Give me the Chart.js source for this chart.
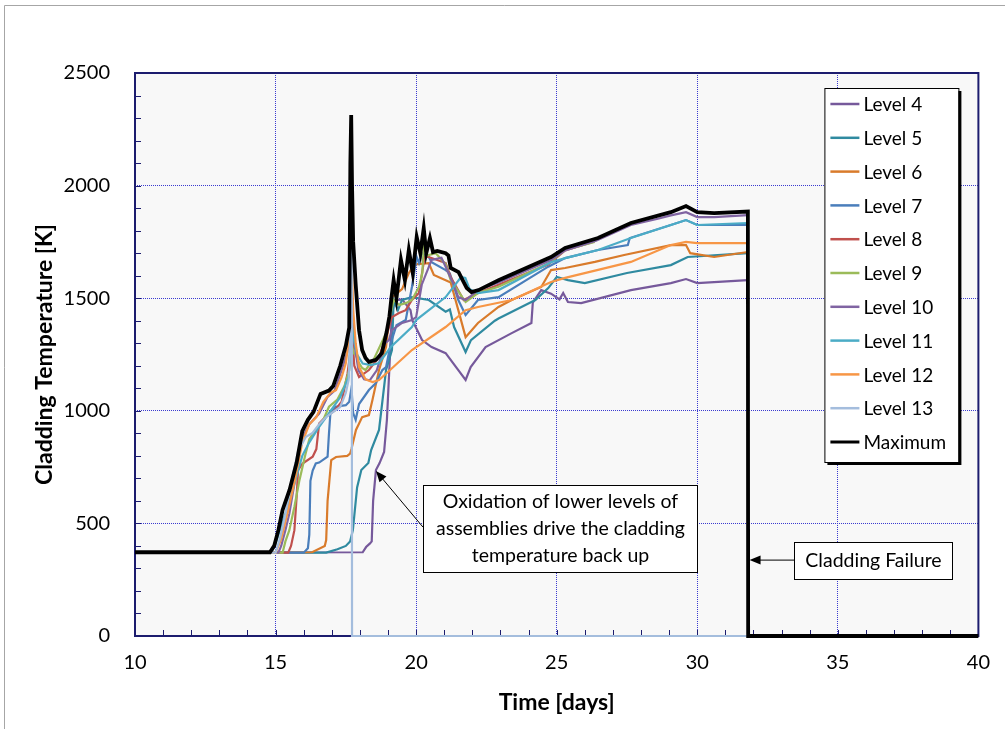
<!DOCTYPE html>
<html>
<head>
<meta charset="utf-8">
<script src="https://cdn.jsdelivr.net/npm/chart.js@4"></script>
<style>
  html, body { margin: 0; padding: 0; background: #fff; }
  #wrap { width: 1005px; height: 729px; }
</style>
</head>
<body>
<div id="wrap"><canvas id="myChart" width="1005" height="729"></canvas></div>
<script>
// [time in days, cladding temperature in K]
var level4 = [[10,370],[18.1,372],[18.22,395],[18.35,410],[18.42,420],[18.47,600],[18.57,737],[18.7,768],[18.86,817],[18.96,959],[19.05,1194],[19.14,1434],[19.25,1490],[19.5,1495],[19.8,1447],[19.86,1403],[19.98,1373],[20.21,1314],[20.55,1283],[21.05,1256],[21.5,1181],[21.76,1137],[21.94,1194],[22.47,1283],[23.4,1345],[24.1,1390],[24.15,1480],[24.45,1536],[24.8,1520],[25.1,1495],[25.23,1523],[25.4,1483],[25.87,1478],[27.64,1536],[29.06,1567],[29.6,1585],[30.0,1567],[31.8,1580]];
var level5 = [[10,370],[16.8,370],[17.2,385],[17.5,400],[17.65,420],[17.75,470],[17.9,660],[18.05,737],[18.3,768],[18.4,826],[18.68,915],[18.93,1181],[19.14,1270],[19.2,1492],[19.35,1447],[19.5,1492],[19.85,1505],[20.45,1492],[21.05,1440],[21.2,1450],[21.35,1372],[21.76,1261],[21.95,1314],[22.8,1400],[22.93,1410],[24.1,1483],[24.24,1492],[24.7,1545],[25.0,1594],[25.4,1580],[26.0,1567],[27.5,1612],[29.06,1647],[29.66,1683],[31.8,1700]];
var level6 = [[10,370],[16.3,372],[16.75,400],[16.8,426],[16.85,600],[16.98,781],[17.15,795],[17.55,800],[17.65,810],[17.7,830],[17.86,915],[18.08,972],[18.32,981],[18.45,1050],[18.68,1181],[18.93,1283],[19.03,1403],[19.14,1505],[19.3,1520],[19.5,1540],[19.74,1612],[19.95,1650],[20.45,1656],[20.63,1603],[21.05,1580],[21.23,1570],[21.5,1447],[21.76,1327],[22.2,1390],[22.93,1461],[23.4,1492],[24.45,1550],[24.8,1625],[25.3,1634],[26.36,1661],[27.4,1692],[29.06,1736],[29.6,1736],[29.75,1700],[30.6,1683],[31.8,1705]];
var level7 = [[10,370],[16.0,370],[16.15,390],[16.2,450],[16.24,689],[16.32,735],[16.43,766],[16.55,770],[16.85,796],[16.9,900],[16.95,988],[17.14,1018],[17.5,1025],[17.62,1040],[17.7,1100],[17.76,990],[17.85,960],[17.97,1030],[18.32,1092],[18.56,1122],[18.8,1181],[18.93,1194],[19.1,1300],[19.3,1380],[19.63,1403],[19.85,1550],[20.02,1683],[20.1,1656],[20.2,1700],[20.45,1683],[20.55,1660],[21.05,1625],[21.2,1610],[21.5,1492],[21.76,1425],[22.2,1492],[22.93,1505],[24.7,1640],[25.3,1678],[26.47,1714],[27.53,1736],[27.6,1767],[29.06,1825],[29.6,1847],[30.0,1825],[31.8,1825]];
var level8 = [[10,370],[15.45,370],[15.55,400],[15.67,470],[15.75,620],[15.8,737],[15.96,766],[16.32,796],[16.45,830],[16.55,944],[16.79,974],[17.1,1000],[17.35,1040],[17.56,1166],[17.65,1250],[17.72,1350],[17.8,1200],[17.97,1150],[18.32,1181],[18.68,1239],[18.93,1327],[19.14,1416],[19.39,1434],[19.63,1447],[19.85,1492],[20.1,1523],[20.3,1683],[20.45,1683],[21.05,1656],[21.23,1594],[21.69,1492],[22.2,1523],[22.93,1560],[24.7,1650],[25.3,1712],[26.35,1752]];
var level9 = [[10,370],[15.25,370],[15.35,420],[15.49,470],[15.67,574],[15.85,692],[16.05,800],[16.2,874],[16.45,920],[16.7,960],[16.9,1018],[17.2,1050],[17.45,1110],[17.62,1180],[17.7,1300],[17.78,1255],[17.85,1250],[17.97,1212],[18.08,1190],[18.2,1181],[18.5,1230],[18.93,1345],[19.1,1434],[19.2,1492],[19.4,1470],[19.63,1478],[19.85,1492],[20.1,1550],[20.22,1612],[20.27,1728],[20.4,1690],[20.7,1700],[21.05,1650],[21.23,1580],[21.76,1483],[22.2,1523],[22.93,1551],[24.7,1654],[25.3,1714],[26.35,1750]];
var level10 = [[10,370],[15.1,370],[15.2,400],[15.35,470],[15.49,544],[15.73,720],[15.96,883],[16.2,940],[16.55,988],[16.85,1062],[17.1,1090],[17.35,1180],[17.55,1260],[17.65,1340],[17.72,1500],[17.8,1300],[17.95,1180],[18.15,1140],[18.35,1135],[18.6,1180],[18.9,1300],[19.03,1314],[19.14,1358],[19.5,1390],[19.85,1403],[20.0,1416],[20.2,1560],[20.55,1670],[20.9,1680],[21.05,1640],[21.3,1570],[21.5,1505],[21.76,1492],[21.95,1510],[22.2,1536],[22.93,1570],[24.8,1670],[25.3,1712],[26.4,1755],[27.64,1825],[28.6,1853],[29.06,1868],[29.6,1882],[30.0,1860],[30.6,1860],[31.8,1869]];
var level11 = [[10,370],[14.85,370],[15.0,410],[15.2,490],[15.45,580],[15.7,690],[15.95,800],[16.2,860],[16.5,920],[16.9,990],[17.3,1060],[17.6,1150],[17.7,1400],[17.78,1320],[17.9,1250],[18.1,1210],[18.4,1203],[18.68,1212],[19.1,1283],[19.85,1372],[20.0,1403],[21.05,1505],[21.6,1594],[21.75,1590],[21.9,1540],[22.2,1523],[22.93,1536],[24.8,1660],[25.3,1678],[26.47,1714],[27.64,1767],[29.06,1825],[29.6,1847],[30.0,1825],[31.8,1834]];
var level12 = [[10,370],[15.0,370],[15.2,430],[15.45,560],[15.7,700],[15.95,860],[16.2,940],[16.45,972],[16.7,1040],[16.95,1080],[17.15,1092],[17.35,1150],[17.5,1212],[17.62,1330],[17.7,1700],[17.76,1450],[17.85,1300],[17.97,1194],[18.2,1140],[18.45,1128],[18.68,1137],[19.85,1270],[21.05,1372],[21.76,1447],[22.2,1461],[23.4,1492],[24.8,1572],[25.3,1590],[27.64,1661],[29.06,1736],[29.6,1750],[30.0,1745],[31.8,1745]];
var level13 = [[10,370],[15.0,370],[15.15,430],[15.35,540],[15.55,680],[15.8,820],[16.08,885],[16.3,900],[16.55,940],[16.8,972],[17.1,1000],[17.3,1017],[17.5,1080],[17.6,1137],[17.68,1400],[17.71,2000],[17.72,0],[31.8,0]];
var maximum = [[10,372],[14.8,372],[14.95,400],[15.1,470],[15.25,560],[15.5,650],[15.75,770],[15.95,910],[16.15,960],[16.35,995],[16.6,1075],[16.9,1090],[17.05,1110],[17.3,1200],[17.5,1290],[17.62,1370],[17.66,2100],[17.69,2313],[17.72,2000],[17.76,1750],[17.85,1560],[17.97,1358],[18.08,1270],[18.2,1235],[18.32,1217],[18.57,1226],[18.78,1256],[18.95,1350],[19.05,1420],[19.12,1500],[19.2,1580],[19.3,1500],[19.46,1670],[19.6,1580],[19.74,1714],[19.88,1612],[20.02,1772],[20.15,1700],[20.27,1811],[20.36,1700],[20.49,1767],[20.6,1705],[20.75,1710],[21.05,1700],[21.15,1690],[21.23,1634],[21.51,1616],[21.8,1545],[21.97,1527],[22.22,1536],[22.93,1580],[24.8,1683],[25.3,1723],[26.47,1767],[27.64,1834],[29.06,1882],[29.6,1909],[30.0,1882],[30.6,1878],[31.8,1885],[31.81,0],[40,0]];

var seriesNames = ['Level 4','Level 5','Level 6','Level 7','Level 8','Level 9','Level 10','Level 11','Level 12','Level 13','Maximum'];
var seriesColors = ['#76599b','#2f8aa0','#d97b2b','#4a7ebb','#c0504d','#9bbb59','#8064a2','#4bacc6','#f79646','#a4bddd','#000000'];
var timeTicks = [10, 15, 20, 25, 30, 35, 40];
var tempTicks = [0, 500, 1000, 1500, 2000, 2500];

var allSeries = [level4, level5, level6, level7, level8, level9, level10, level11, level12, level13, maximum];

var notes = [
    { lines: ['Oxidation of lower levels of', 'assemblies drive the cladding', 'temperature back up'],
      box: [20.24, 670, 29.98, 284], from: [20.24, 484], to: [18.57, 733] },
    { lines: ['Cladding Failure'],
      box: [33.45, 417, 39.05, 253], from: [33.45, 337], to: [31.86, 337] }
];

Chart.defaults.font.family = 'Lato';
Chart.defaults.color = '#000';

var datasets = allSeries.map(function (s, i) {
    var isMax = i === allSeries.length - 1;
    return {
        label: seriesNames[i],
        data: s.map(function (p) { return {x: p[0], y: p[1]}; }),
        borderColor: seriesColors[i],
        backgroundColor: seriesColors[i],
        borderWidth: isMax ? 3.8 : 2.2,
        pointRadius: 0,
        tension: 0,
        fill: false,
        clip: 6,
        order: allSeries.length - i
    };
});

var background = {
    id: 'background',
    beforeDraw: function (chart) {
        var ctx = chart.ctx, a = chart.chartArea;
        ctx.save();
        ctx.fillStyle = '#fff';
        ctx.fillRect(0, 0, chart.width, chart.height);
        ctx.strokeStyle = '#a6a6a6';
        ctx.lineWidth = 1;
        ctx.beginPath();
        ctx.moveTo(4.5, chart.height);
        ctx.lineTo(4.5, 5.5);
        ctx.lineTo(chart.width, 5.5);
        ctx.stroke();
        ctx.fillStyle = '#f8f8f8';
        ctx.fillRect(a.left, a.top, a.right - a.left, a.bottom - a.top);
        ctx.restore();
    }
};

var frameTicks = {
    id: 'frameTicks',
    beforeDatasetsDraw: function (chart) {
        var ctx = chart.ctx, a = chart.chartArea, xs = chart.scales.x, ys = chart.scales.y;
        ctx.save();
        ctx.strokeStyle = '#1c1c6e';
        ctx.lineWidth = 1;
        ctx.beginPath();
        for (var t = xs.min + 1; t < xs.max; t += 1) {
            var px = Math.round(xs.getPixelForValue(t)) + 0.5;
            ctx.moveTo(px, a.bottom);
            ctx.lineTo(px, a.bottom - 6);
        }
        for (var k = ys.min + 100; k < ys.max; k += 100) {
            var py = Math.round(ys.getPixelForValue(k)) + 0.5;
            ctx.moveTo(a.left, py);
            ctx.lineTo(a.left + 6, py);
        }
        ctx.stroke();
        ctx.lineWidth = 2;
        ctx.strokeRect(a.left, a.top, a.right - a.left, a.bottom - a.top);
        ctx.restore();
    }
};

function arrow(ctx, x1, y1, x2, y2) {
    var ang = Math.atan2(y2 - y1, x2 - x1), len = 11, w = 4.5;
    ctx.beginPath();
    ctx.moveTo(x1, y1);
    ctx.lineTo(x2 - Math.cos(ang) * len * 0.8, y2 - Math.sin(ang) * len * 0.8);
    ctx.stroke();
    ctx.beginPath();
    ctx.moveTo(x2, y2);
    ctx.lineTo(x2 - Math.cos(ang) * len + Math.sin(ang) * w, y2 - Math.sin(ang) * len - Math.cos(ang) * w);
    ctx.lineTo(x2 - Math.cos(ang) * len - Math.sin(ang) * w, y2 - Math.sin(ang) * len + Math.cos(ang) * w);
    ctx.closePath();
    ctx.fill();
}

var overlay = {
    id: 'overlay',
    afterDraw: function (chart) {
        var ctx = chart.ctx, a = chart.chartArea, xs = chart.scales.x, ys = chart.scales.y;
        ctx.save();
        // text boxes with arrows
        notes.forEach(function (n) {
            var l = Math.round(xs.getPixelForValue(n.box[0])) + 0.5;
            var t = Math.round(ys.getPixelForValue(n.box[1])) + 0.5;
            var r = Math.round(xs.getPixelForValue(n.box[2])) + 0.5;
            var b = Math.round(ys.getPixelForValue(n.box[3])) + 0.5;
            ctx.strokeStyle = '#000';
            ctx.fillStyle = '#000';
            ctx.lineWidth = 1;
            arrow(ctx, xs.getPixelForValue(n.from[0]), ys.getPixelForValue(n.from[1]),
                  xs.getPixelForValue(n.to[0]), ys.getPixelForValue(n.to[1]));
            ctx.fillStyle = '#fff';
            ctx.fillRect(l, t, r - l, b - t);
            ctx.strokeRect(l, t, r - l, b - t);
            ctx.fillStyle = '#000';
            ctx.font = '19.5px Lato';
            ctx.textAlign = 'center';
            ctx.textBaseline = 'middle';
            var lh = 27, cy = (t + b) / 2 - (n.lines.length - 1) * lh / 2;
            n.lines.forEach(function (s, i) { ctx.fillText(s, (l + r) / 2, cy + i * lh); });
        });
        // legend box
        var lw = 134, lhgt = 374;
        var lx = a.right - 154, ly = a.top + 15;
        ctx.fillStyle = '#000';
        ctx.fillRect(lx + 3, ly + 3, lw, lhgt);
        ctx.fillStyle = '#fff';
        ctx.fillRect(lx, ly, lw, lhgt);
        ctx.strokeStyle = '#000';
        ctx.lineWidth = 1;
        ctx.strokeRect(lx + 0.5, ly + 0.5, lw, lhgt);
        ctx.font = '19px Lato';
        ctx.textAlign = 'left';
        ctx.textBaseline = 'middle';
        chart.data.datasets.forEach(function (d, i) {
            var yy = ly + 16 + i * 33.8;
            ctx.strokeStyle = d.borderColor;
            ctx.lineWidth = d.borderWidth > 3 ? 3 : 2.5;
            ctx.beginPath();
            ctx.moveTo(lx + 6, yy);
            ctx.lineTo(lx + 35, yy);
            ctx.stroke();
            ctx.fillStyle = '#000';
            ctx.fillText(d.label, lx + 39, yy + 1);
        });
        ctx.restore();
    }
};

function plain(v) { return String(v); }

var chart = new Chart(document.getElementById('myChart'), {
    type: 'line',
    data: { datasets: datasets },
    options: {
        responsive: false,
        animation: false,
        devicePixelRatio: 1,
        layout: { padding: { top: 73, right: 23, left: 0, bottom: 0 } },
        plugins: { legend: { display: false }, tooltip: { enabled: false } },
        scales: {
            x: {
                type: 'linear',
                min: timeTicks[0],
                max: timeTicks[timeTicks.length - 1],
                afterBuildTicks: function (scale) {
                    scale.ticks = timeTicks.map(function (v) { return {value: v}; });
                },
                afterFit: function (scale) { scale.height = 93; },
                ticks: { font: { size: 20 }, padding: 15, maxRotation: 0, color: '#000', callback: plain },
                grid: { color: '#3a3ad0', lineWidth: 1, drawTicks: false },
                border: { display: false, dash: [1, 1] },
                title: { display: true, text: 'Time [days]', font: { size: 23, weight: 'bold' }, padding: { top: 0, bottom: 13 }, color: '#000' }
            },
            y: {
                type: 'linear',
                min: tempTicks[0],
                max: tempTicks[tempTicks.length - 1],
                afterBuildTicks: function (scale) {
                    scale.ticks = tempTicks.map(function (v) { return {value: v}; });
                },
                afterFit: function (scale) { scale.width = 135; },
                ticks: { font: { size: 20 }, padding: 25, color: '#000', callback: plain },
                grid: { color: '#3a3ad0', lineWidth: 1, drawTicks: false },
                border: { display: false, dash: [1, 1] },
                title: { display: true, text: 'Cladding Temperature [K]', font: { size: 23, weight: 'bold' }, padding: { top: 31, bottom: 0 }, color: '#000' }
            }
        }
    },
    plugins: [background, frameTicks, overlay]
});
</script>
</body>
</html>
